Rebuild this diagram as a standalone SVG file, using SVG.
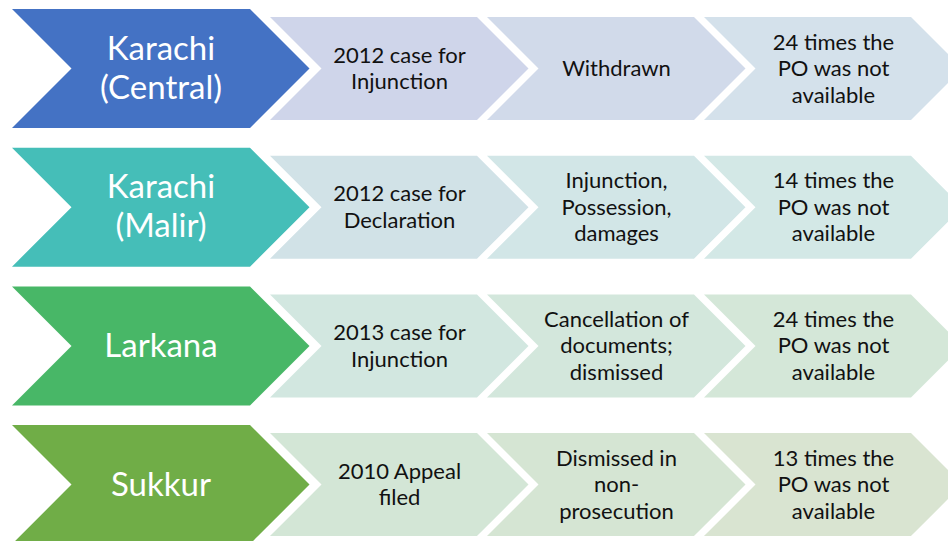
<svg xmlns="http://www.w3.org/2000/svg" width="948" height="541" viewBox="0 0 948 541">
  <style>
    .big { font-family: Lato, "Liberation Sans", sans-serif; font-size: 33px; fill: #ffffff; text-anchor: middle; }
    .small { font-family: Lato, "Liberation Sans", sans-serif; font-size: 22px; fill: #111111; text-anchor: middle; }
  </style>
  <defs>
    <!-- chevron shapes, drawn around a row centre line at y=0 -->
    <polygon id="bigChevron" points="12,-59.5 250,-59.5 309.5,0 250,59.5 12,59.5 71.5,0"/>
    <polygon id="stepChevron" points="0,-51.5 207,-51.5 258.5,0 207,51.5 0,51.5 51.5,0"/>
  </defs>

  <rect width="948" height="541" fill="#ffffff"/>

  <!-- Row 1: Karachi (Central) -->
  <g id="row-karachi-central" transform="translate(0,68.5)">
    <g id="karachi-central">
      <use href="#bigChevron" fill="#4472C4"/>
      <text class="big" x="161" y="-9">Karachi</text>
      <text class="big" x="161" y="30">(Central)</text>
    </g>
    <g id="kc-case">
      <use href="#stepChevron" x="270" fill="#CFD5EA"/>
      <text class="small" x="399.5" y="-5.75">2012 case for</text>
      <text class="small" x="399.5" y="20.75">Injunction</text>
    </g>
    <g id="kc-outcome">
      <use href="#stepChevron" x="487" fill="#D1DAEA"/>
      <text class="small" x="616.5" y="7.5">Withdrawn</text>
    </g>
    <g id="kc-po">
      <use href="#stepChevron" x="704" fill="#D4E1EB"/>
      <text class="small" x="833.5" y="-19">24 times the</text>
      <text class="small" x="833.5" y="7.5">PO was not</text>
      <text class="small" x="833.5" y="34">available</text>
    </g>
  </g>

  <!-- Row 2: Karachi (Malir) -->
  <g id="row-karachi-malir" transform="translate(0,207.2)">
    <g id="karachi-malir">
      <use href="#bigChevron" fill="#45BEB8"/>
      <text class="big" x="161" y="-9.5">Karachi</text>
      <text class="big" x="161" y="30">(Malir)</text>
    </g>
    <g id="km-case">
      <use href="#stepChevron" x="270" fill="#D1E2E7"/>
      <text class="small" x="399.5" y="-5.75">2012 case for</text>
      <text class="small" x="399.5" y="20.75">Declaration</text>
    </g>
    <g id="km-outcome">
      <use href="#stepChevron" x="487" fill="#D2E6E7"/>
      <text class="small" x="616.5" y="-19">Injunction,</text>
      <text class="small" x="616.5" y="7.5">Possession,</text>
      <text class="small" x="616.5" y="34">damages</text>
    </g>
    <g id="km-po">
      <use href="#stepChevron" x="704" fill="#D3E8E6"/>
      <text class="small" x="833.5" y="-19">14 times the</text>
      <text class="small" x="833.5" y="7.5">PO was not</text>
      <text class="small" x="833.5" y="34">available</text>
    </g>
  </g>

  <!-- Row 3: Larkana -->
  <g id="row-larkana" transform="translate(0,345.9)">
    <g id="larkana">
      <use href="#bigChevron" fill="#48B767"/>
      <text class="big" x="161" y="11.5">Larkana</text>
    </g>
    <g id="lk-case">
      <use href="#stepChevron" x="270" fill="#D2E7E0"/>
      <text class="small" x="399.5" y="-5.75">2013 case for</text>
      <text class="small" x="399.5" y="20.75">Injunction</text>
    </g>
    <g id="lk-outcome">
      <use href="#stepChevron" x="487" fill="#D3E7DC"/>
      <text class="small" x="616.5" y="-19">Cancellation of</text>
      <text class="small" x="616.5" y="7.5">documents;</text>
      <text class="small" x="616.5" y="34">dismissed</text>
    </g>
    <g id="lk-po">
      <use href="#stepChevron" x="704" fill="#D4E7D8"/>
      <text class="small" x="833.5" y="-19">24 times the</text>
      <text class="small" x="833.5" y="7.5">PO was not</text>
      <text class="small" x="833.5" y="34">available</text>
    </g>
  </g>

  <!-- Row 4: Sukkur -->
  <g id="row-sukkur" transform="translate(0,484.6)">
    <g id="sukkur">
      <use href="#bigChevron" fill="#70AD47"/>
      <text class="big" x="161" y="11.5">Sukkur</text>
    </g>
    <g id="sk-case">
      <use href="#stepChevron" x="270" fill="#D3E6D6"/>
      <text class="small" x="399.5" y="-5.75">2010 Appeal</text>
      <text class="small" x="399.5" y="20.75">filed</text>
    </g>
    <g id="sk-outcome">
      <use href="#stepChevron" x="487" fill="#D5E5D3"/>
      <text class="small" x="616.5" y="-19">Dismissed in</text>
      <text class="small" x="616.5" y="7.5">non-</text>
      <text class="small" x="616.5" y="34">prosecution</text>
    </g>
    <g id="sk-po">
      <use href="#stepChevron" x="704" fill="#D9E4D1"/>
      <text class="small" x="833.5" y="-19">13 times the</text>
      <text class="small" x="833.5" y="7.5">PO was not</text>
      <text class="small" x="833.5" y="34">available</text>
    </g>
  </g>

  <!-- no connectors: the chevrons themselves carry the flow -->
  <g id="connectors"/>
</svg>
